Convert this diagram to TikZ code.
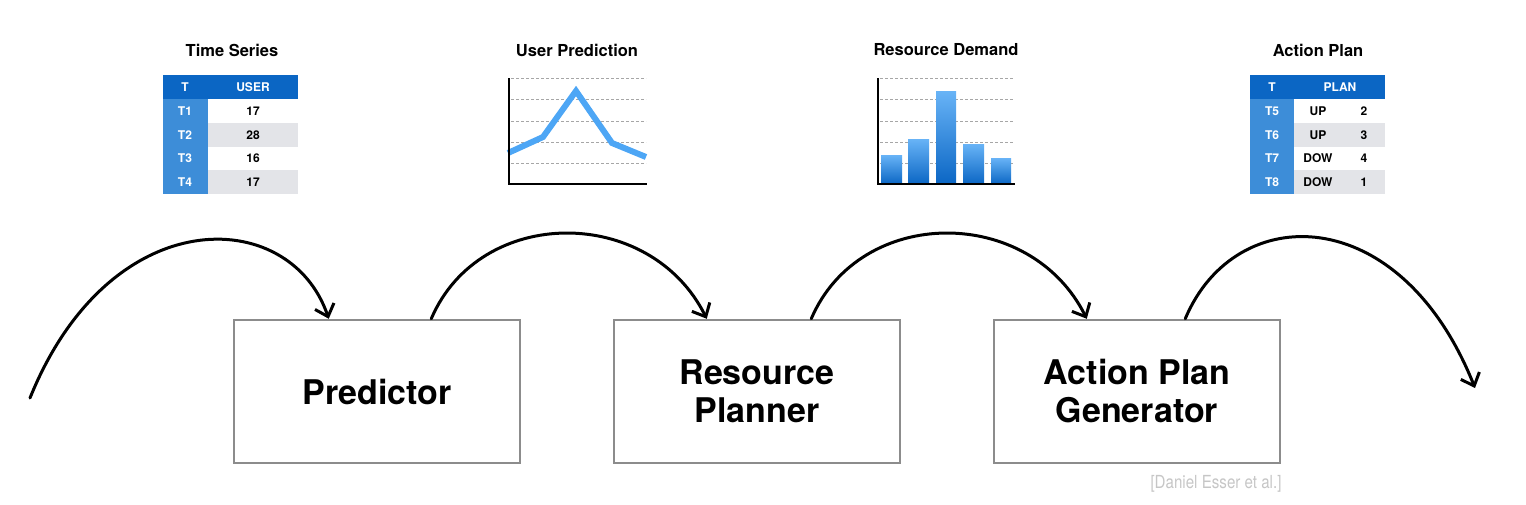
\documentclass[tikz,border=0pt]{standalone}
\usepackage{fontspec}
\setmainfont{TeX Gyre Heros}
\newfontfamily\condfont[FakeStretch=0.84]{TeX Gyre Heros}
\usetikzlibrary{positioning,arrows.meta}
\definecolor{headblue}{HTML}{0B66C4}
\definecolor{colblue}{HTML}{3D8DD8}
\definecolor{rowgray}{HTML}{E3E4E8}
\definecolor{lineblue}{HTML}{4DA6F5}
\definecolor{boxgray}{HTML}{8C8C8C}
\tikzset{
  procbox/.style={draw=boxgray, line width=2.5pt, rectangle, minimum width=286pt, minimum height=143pt, align=center, font=\bfseries\fontsize{34}{38}\selectfont},
  flow/.style={-{Straight Barb[length=11pt, width=20pt, line width=3pt]}, line width=3pt, line cap=round},
  title/.style={font=\bfseries\fontsize{16.5}{19}\selectfont},
  cell/.style={font=\bfseries\fontsize{12}{14}\selectfont},
  hcell/.style={cell, text=white},
  grid/.style={gray!70, line width=1pt, dash pattern=on 2.5pt off 2.5pt}
}
\begin{document}
\begin{tikzpicture}[x=1pt, y=-1pt]
        \useasboundingbox (0,0) rectangle (1526,504);

        % Nodes
        \node[procbox] (pred) at (377,391.5) {Predictor};
        \node[procbox, right=91.5pt of pred] (plan) {Resource\\Planner};
        \node[procbox, right=91.5pt of plan] (gen) {Action Plan\\Generator};
        \coordinate (in) at (30,398);
        \coordinate (out) at (1475,388);

        % Arrows
        \draw[flow] (in) .. controls (110,200) and (290,205) .. ([xshift=96pt]pred.north west);
        \draw[flow] ([xshift=-90pt]pred.north east) .. controls (480,205) and (650,205) .. ([xshift=94pt]plan.north west);
        \draw[flow] ([xshift=-90pt]plan.north east) .. controls (860,205) and (1030,205) .. ([xshift=94pt]gen.north west);
        \draw[flow] ([xshift=-96pt]gen.north east) .. controls (1235,200) and (1400,200) .. (out);

        % Titles
        \node[title] (t1) at (232,50) {Time Series};
        \node[title] (t2) at (577,50) {User Prediction};
        \node[title] (t3) at (946,50) {Resource Demand};
        \node[title] (t4) at (1318,50) {Action Plan};

        % Time series table
        \fill[rowgray] (208,123) rectangle (298,147);
        \fill[rowgray] (208,170) rectangle (298,194);
        \fill[colblue] (163,99) rectangle (208,194);
        \fill[headblue] (163,75) rectangle (298,99);
        \node[hcell] at (185,87) {T};
        \node[hcell] at (253,87) {USER};
        \node[hcell] at (185,111) {T1};
        \node[hcell] at (185,135) {T2};
        \node[hcell] at (185,158.5) {T3};
        \node[hcell] at (185,182) {T4};
        \node[cell] at (253,111) {17};
        \node[cell] at (253,135) {28};
        \node[cell] at (253,158.5) {16};
        \node[cell] at (253,182) {17};

        % User prediction chart
        \foreach \y in {78,99,121,142,163}
          \draw[grid] (511,\y) -- (646,\y);
        \draw[line width=6pt, lineblue, line join=miter] (508,153) -- (543,137) -- (576,91) -- (612,143) -- (646,157);
        \draw[line width=2pt] (509,78) -- (509,184) -- (647,184);

        % Resource demand chart
        \foreach \y in {78,99,121,142,163}
          \draw[grid] (880,\y) -- (1013,\y);
        \shade[top color=lineblue!85, bottom color=headblue] (881,155) rectangle (902,184);
        \shade[top color=lineblue!85, bottom color=headblue] (908,139) rectangle (929,184);
        \shade[top color=lineblue!85, bottom color=headblue] (936,91) rectangle (956,184);
        \shade[top color=lineblue!85, bottom color=headblue] (963,144) rectangle (984,184);
        \shade[top color=lineblue!85, bottom color=headblue] (991,158) rectangle (1011,184);
        \draw[line width=2pt] (878,78) -- (878,184) -- (1015,184);

        % Action plan table
        \fill[rowgray] (1294,123) rectangle (1385,147);
        \fill[rowgray] (1294,170) rectangle (1385,194);
        \fill[colblue] (1250,99) rectangle (1294,194);
        \fill[headblue] (1250,75) rectangle (1385,99);
        \node[hcell] at (1272,87) {T};
        \node[hcell] at (1340,87) {PLAN};
        \node[hcell] at (1272,111) {T5};
        \node[hcell] at (1272,135) {T6};
        \node[hcell] at (1272,158.5) {T7};
        \node[hcell] at (1272,182) {T8};
        \node[cell] at (1318,111) {UP};
        \node[cell] at (1318,135) {UP};
        \node[cell] at (1318,158.5) {DOW};
        \node[cell] at (1318,182) {DOW};
        \node[cell] at (1364,111) {2};
        \node[cell] at (1364,135) {3};
        \node[cell] at (1364,158.5) {4};
        \node[cell] at (1364,182) {1};

        % Source
        \node[text=gray!45, font=\condfont\fontsize{18}{20}\selectfont] (src) at (1216,484) {[Daniel Esser et al.]};
    \end{tikzpicture}
\end{document}
